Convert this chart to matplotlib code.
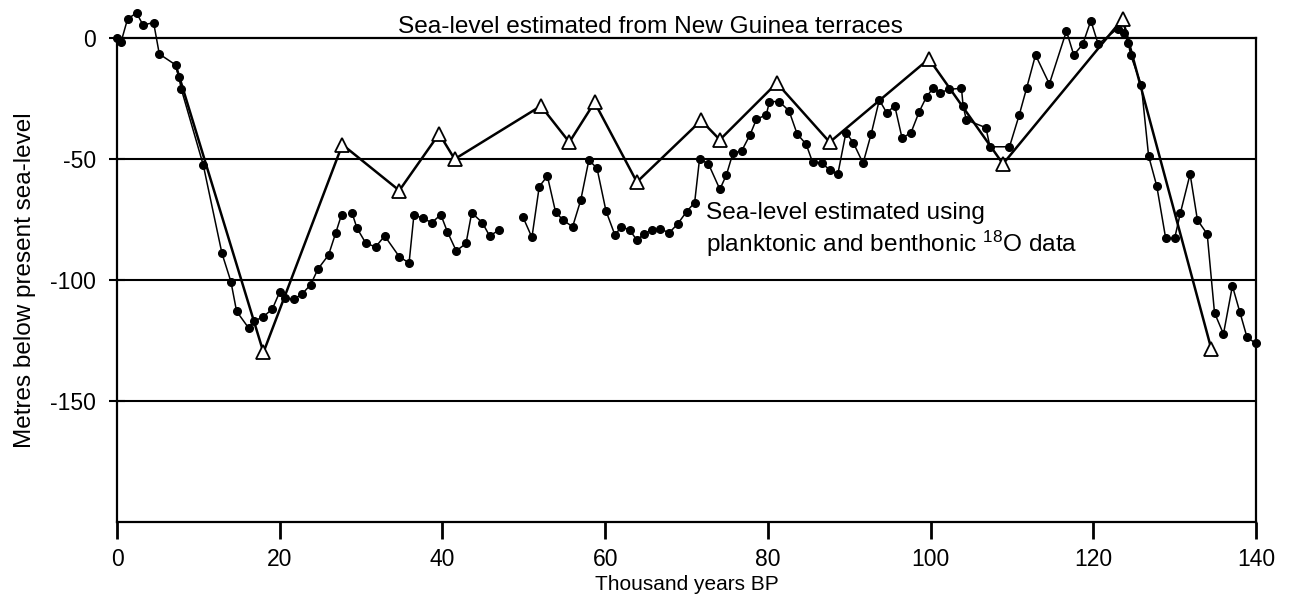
import numpy as np
import matplotlib
matplotlib.use("Agg")
import matplotlib.pyplot as plt

plt.rcParams['font.family'] = ['Liberation Sans', 'DejaVu Sans']
plt.rcParams['axes.unicode_minus'] = False
plt.rcParams['mathtext.default'] = 'regular'

# Sea-level estimated from planktonic and benthonic 18O data (NaN = break in line)
o18_age = [0, 0.5, 1.3, 2.4, 3.2, 4.5, 5.2, 7.2, 7.6, 7.9, 10.6, 12.9, 14.0, 14.7,
           16.2, 16.8, 17.9, 19.1, 20.0, 20.7, 21.7, 22.7, 23.8, 24.7, 26.0, 26.9,
           27.6, np.nan, 28.9, 29.5, 30.6, 31.8, 32.9, 34.7, 35.9, 36.5, 37.6, 38.7,
           39.8, 40.6, 41.7, 42.9, 43.6, 44.9, 45.8, 47.0, np.nan, 49.9, 51.0, 51.9,
           52.9, 53.9, 54.8, 56.0, 57.0, 58.0, 59.0, 60.1, 61.2, 62.0, 63.0, 63.9,
           64.8, 65.7, 66.7, 67.9, 68.9, 70.0, 71.0, 71.6, 72.7, 74.1, 74.9, 75.7,
           76.8, 77.8, 78.6, 79.8, 80.2, 81.4, 82.6, 83.6, 84.7, 85.5, 86.6, 87.6,
           88.6, 89.6, 90.5, 91.7, 92.7, 93.7, 94.6, 95.6, 96.5, 97.6, 98.6, 99.5,
           100.3, 101.2, 102.3, 103.8, 104.0, 104.4, 106.8, 107.3, 109.7, 110.9,
           111.8, 112.9, 114.6, 116.7, 117.6, 118.7, 119.7, 120.6, 123.0, 123.8,
           124.3, 124.6, 125.9, 126.8, 127.8, 128.9, 130.0, 130.7, 131.9, 132.8,
           134.0, 134.9, 136.0, 137.1, 138.0, 138.9, 140.0]
o18_level = [0, -1.5, 8, 10.5, 5.5, 6.5, -6.5, -11, -16, -21, -52.4, -89, -100.7, -113,
             -120, -117, -115.5, -112, -105, -107.6, -108, -106, -102, -95.5, -89.7,
             -80.4, -73, np.nan, -72.4, -78.6, -84.9, -86.3, -81.8, -90.4, -93, -73,
             -74.5, -76.3, -73, -80, -88, -84.9, -72.2, -76.3, -81.8, -79.3, np.nan,
             -74, -82.4, -61.4, -57, -71.8, -75.2, -78, -67, -50.4, -53.8, -71.4,
             -81.4, -78, -79.3, -83.5, -81, -79.3, -79, -80.4, -76.9, -71.8, -68,
             -50, -52, -62.5, -56.6, -47.6, -46.5, -40, -33.5, -31.7, -26.2, -26.2,
             -30, -39.6, -43.8, -51.3, -51.5, -54.5, -56.2, -39, -43.2, -51.7, -39.6,
             -25.5, -30.8, -28, -41.4, -39, -30.4, -24.2, -20.7, -22.5, -21.1, -20.7,
             -28, -33.8, -37, -44.9, -44.9, -31.7, -20.7, -6.9, -18.9, 3, -6.9, -2.5,
             7.3, -2.4, 4, 2, -2, -7, -19.3, -48.7, -61.1, -82.8, -82.8, -72.4, -56.2,
             -75.2, -81, -113.6, -122.4, -102.5, -113.2, -123.8, -126.3]

# Sea-level estimated from New Guinea terraces (first point: line start, no marker)
terrace_age = [7.3, 18.0, 27.7, 34.7, 39.6, 41.5, 52.1, 55.6, 58.7, 63.9, 71.8, 74.1,
               81.1, 87.6, 99.8, 108.9, 123.6, 134.5]
terrace_level = [-12, -130, -44, -63, -39.5, -50, -28, -43, -26.5, -59.5, -34, -42,
                 -18.5, -43, -8.5, -52, 8, -128.5]

xticks = [0, 20, 40, 60, 80, 100, 120, 140]
yticks = [0, -50, -100, -150]

fig = plt.figure(figsize=(12.91, 6), dpi=100)
ax = fig.add_axes([117 / 1291, 1 - 521.5 / 600, (1256 - 117) / 1291, (521.5 - 38.3) / 600])
ax.set_xlim(0, 140)
ax.set_ylim(-200, 0)

for y in yticks[1:]:
    ax.axhline(y, color='black', lw=1.5, zorder=1)

ax.plot(terrace_age, terrace_level, color='black', lw=1.8, marker='^', ms=10,
        mfc='white', mec='black', mew=1.3, markevery=list(range(1, len(terrace_age))),
        clip_on=False, zorder=3)
ax.plot(o18_age, o18_level, color='black', lw=1.1, marker='o', ms=5.5,
        clip_on=False, zorder=4)

for s in ['top', 'bottom', 'left', 'right']:
    ax.spines[s].set_linewidth(1.6)

ax.set_xticks(xticks)
ax.set_xticklabels([str(t) for t in xticks])
ax.set_yticks(yticks)
ax.set_yticklabels([str(t) for t in yticks])
ax.tick_params(axis='x', direction='out', length=12, width=2, pad=7, labelsize=16.5)
ax.tick_params(axis='y', direction='inout', length=12, width=1.5, pad=9, labelsize=16.5)

ax.set_xlabel('Thousand years BP', fontsize=15, labelpad=3)
ax.set_ylabel('Metres below present sea-level', fontsize=17.5, labelpad=10)

ax.text(34.5, 4.8, 'Sea-level estimated from New Guinea terraces', fontsize=17.6,
        va='center', ha='left', clip_on=False)
ax.text(72.4, -72.2, 'Sea-level estimated using', fontsize=17.6, va='center', ha='left')
ax.text(72.4, -85.0, r'planktonic and benthonic $^{18}$O data', fontsize=17.6,
        va='center', ha='left')

fig.savefig('out.png', dpi=100)
